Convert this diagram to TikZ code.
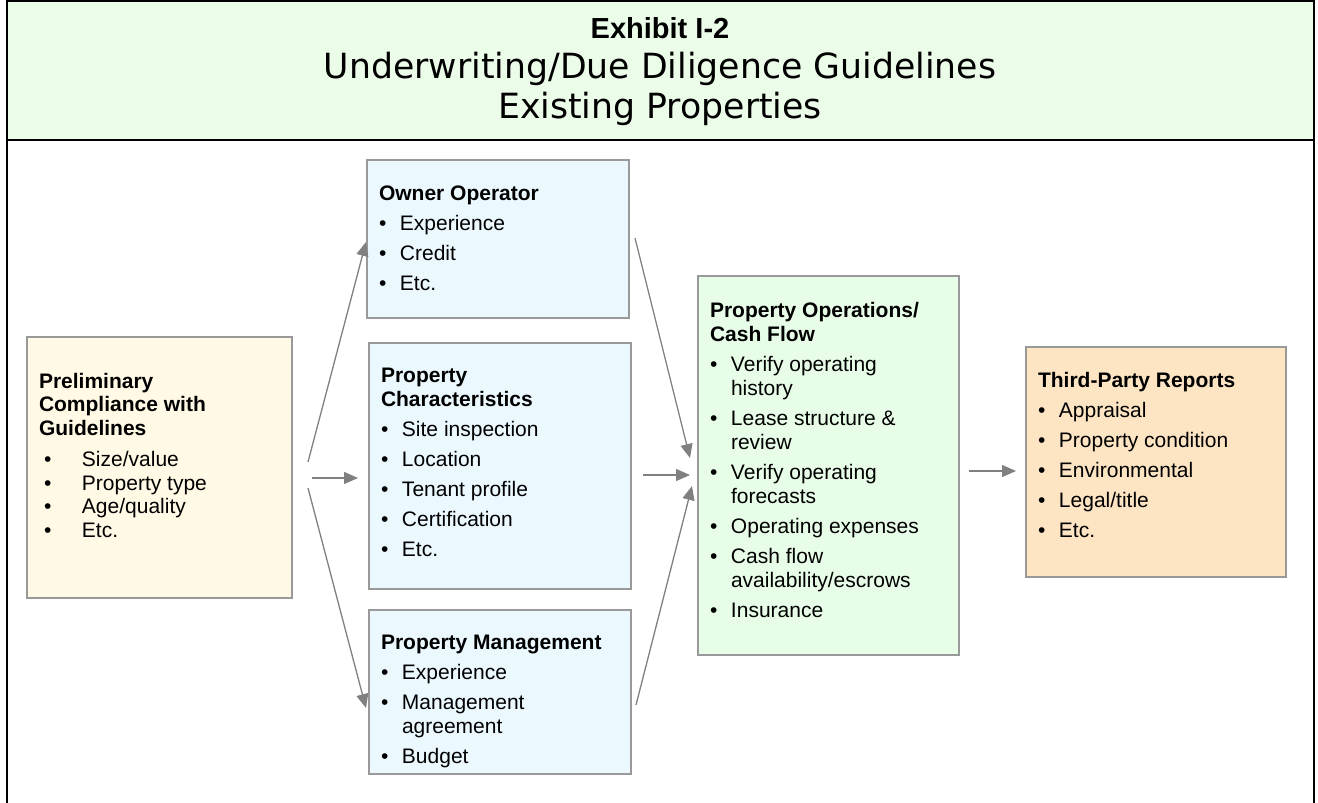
\documentclass[tikz,border=0pt]{standalone}
\usepackage{fontspec}
\setmainfont{Liberation Sans}
\newfontfamily\headfont{DejaVu Sans}
\usetikzlibrary{arrows.meta}
\definecolor{headgreen}{RGB}{235,253,232}
\definecolor{creamfill}{RGB}{255,249,229}
\definecolor{bluefill}{RGB}{235,249,255}
\definecolor{greenfill}{RGB}{232,253,232}
\definecolor{peachfill}{RGB}{253,229,196}
\definecolor{boxline}{RGB}{153,153,153}
\definecolor{arrowgray}{RGB}{128,128,128}
\newcommand{\itm}{\par\vspace{6pt}\hangindent=21pt\hangafter=1\noindent\makebox[21pt][l]{\textbullet}}
\newcommand{\litm}{\par\hangindent=43pt\hangafter=1\noindent\makebox[43pt][l]{\hspace{5pt}\textbullet}}
\newcommand{\boxtext}[4]{\parbox[c][#2][t]{#1}{\vspace*{#3}\fontsize{21}{24}\selectfont\raggedright #4}}
\tikzset{
  frameline/.style={line width=2.5pt, draw=black},
  card/.style={draw=boxline, line width=2pt, anchor=north west, inner xsep=12pt, inner ysep=0pt, outer sep=0pt},
  flow/.style={draw=arrowgray, line width=1.3pt, -{Triangle[length=14pt,width=12pt]}},
}
\begin{document}
\begin{tikzpicture}[x=1pt,y=-1pt]
\useasboundingbox (0,0) rectangle (1318,803);
% frame and header
\fill[headgreen] (7,1) rectangle (1314,140);
\draw[frameline] (7,803) -- (7,1) -- (1314,1) -- (1314,803);
\draw[frameline] (7,140) -- (1314,140);
\node[font=\fontsize{29}{32}\selectfont\bfseries] (t1) at (660,28) {Exhibit I-2};
\node[font=\headfont\fontsize{34.7}{38}\selectfont] (t2) at (660,69) {Underwriting/Due Diligence Guidelines};
\node[font=\headfont\fontsize{34.7}{38}\selectfont] (t3) at (660,109) {Existing Properties};
% boxes
\node[card, fill=creamfill] (pre) at (27,337) {\parbox[c][261pt][t]{241pt}{\vspace*{36pt}\fontsize{21}{23.5}\selectfont\raggedright
  \textbf{Preliminary\\Compliance with\\Guidelines}\par\vspace{8pt}
  \litm Size/value\litm Property type\litm Age/quality\litm Etc.}};
\node[card, fill=bluefill] (oo) at (367,160) {\boxtext{238pt}{158pt}{25.5pt}{\textbf{Owner Operator}\itm Experience\itm Credit\itm Etc.}};
\node[card, fill=bluefill] (pc) at (369,343) {\boxtext{238pt}{246pt}{25.5pt}{\textbf{Property\\Characteristics}\itm Site inspection\itm Location\itm Tenant profile\itm Certification\itm Etc.}};
\node[card, fill=bluefill] (pm) at (369,610) {\boxtext{238pt}{164pt}{25.5pt}{\textbf{Property Management}\itm Experience\itm Management\newline agreement\itm Budget}};
\node[card, fill=greenfill] (po) at (698,276) {\boxtext{237pt}{379pt}{26.5pt}{\textbf{Property Operations/\\Cash Flow}\itm Verify operating\newline history\itm Lease structure \&\newline review\itm Verify operating\newline forecasts\itm Operating expenses\itm Cash flow\newline availability/escrows\itm Insurance}};
\node[card, fill=peachfill] (tpr) at (1026,347) {\boxtext{236pt}{230pt}{25.5pt}{\textbf{Third-Party Reports}\itm Appraisal\itm Property condition\itm Environmental\itm Legal/title\itm Etc.}};
% connector end points
\coordinate (f1) at (308,462);
\coordinate (f2) at (312,478);
\coordinate (f3) at (308,488);
\coordinate (a1) at (366,242);
\coordinate (a2) at (358,478);
\coordinate (a3) at (366,708);
\coordinate (s1) at (635,238);
\coordinate (s2) at (643,475);
\coordinate (s3) at (636,705);
\coordinate (b1) at (690,458);
\coordinate (b2) at (690,475);
\coordinate (b3) at (692,486);
\coordinate (r1) at (969,471);
\coordinate (r2) at (1016,471);
\draw[flow] (f1) -- (a1);
\draw[flow] (f2) -- (a2);
\draw[flow] (f3) -- (a3);
\draw[flow] (s1) -- (b1);
\draw[flow] (s2) -- (b2);
\draw[flow] (s3) -- (b3);
\draw[flow] (r1) -- (r2);
\end{tikzpicture}
\end{document}
